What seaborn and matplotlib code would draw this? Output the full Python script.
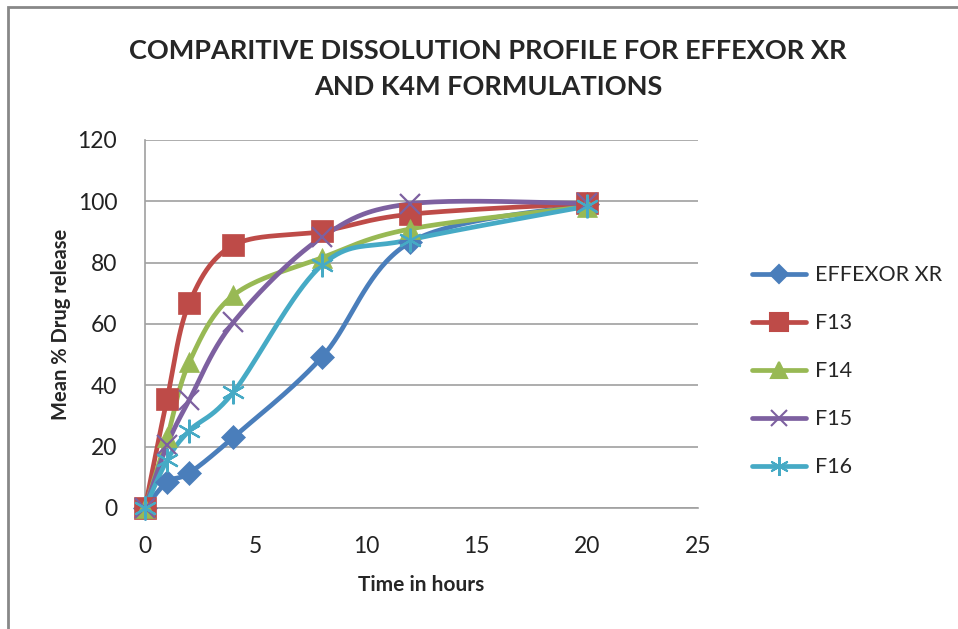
import numpy as np
import pandas as pd
import matplotlib
matplotlib.use("Agg")
import matplotlib.pyplot as plt
from matplotlib.lines import Line2D
from matplotlib.patches import Rectangle
import seaborn as sns

time_h = [0, 1, 2, 4, 8, 12, 20]
effexor_xr = [0, 8.5, 11.4, 23.1, 49.2, 86.7, 99]
f13 = [0, 35.6, 66.8, 85.7, 90.2, 95.8, 99.3]
f14 = [0, 23, 47.5, 69.4, 81.6, 91, 98.3]
f15 = [0, 20.5, 35.2, 60.6, 88.3, 99.2, 99.3]
f16 = [0, 15.6, 25.2, 37.8, 79.2, 87.5, 98.4]

series_names = ["EFFEXOR XR", "F13", "F14", "F15", "F16"]
series_values = [effexor_xr, f13, f14, f15, f16]
colors = ["#4A7EBB", "#BE4B48", "#98B954", "#7D60A0", "#46AAC5"]
markers = ["D", "s", "^", "x", (6, 2, 0)]
msizes = [12, 16, 15, 15, 17]

title = "COMPARITIVE DISSOLUTION PROFILE FOR EFFEXOR XR\nAND K4M FORMULATIONS"
xlabel = "Time in hours"
ylabel = "Mean % Drug release"


def smooth(xs, ys, n=40):
    xs = np.asarray(xs, float)
    ys = np.asarray(ys, float)
    pts = np.column_stack([xs, ys])
    out = []
    for i in range(len(pts) - 1):
        p0 = pts[i - 1] if i > 0 else pts[i]
        p1 = pts[i]
        p2 = pts[i + 1]
        p3 = pts[i + 2] if i + 2 < len(pts) else pts[i + 1]
        c1 = p1 + (p2 - p0) / 6.0
        c2 = p2 - (p3 - p1) / 6.0
        t = np.linspace(0, 1, n)[:, None]
        seg = ((1 - t) ** 3) * p1 + 3 * ((1 - t) ** 2) * t * c1 + 3 * (1 - t) * t ** 2 * c2 + t ** 3 * p2
        out.append(seg if i == 0 else seg[1:])
    s = np.vstack(out)
    return s[:, 0], s[:, 1]


sns.set_style("white")
plt.rcParams["font.family"] = ["Lato", "DejaVu Sans"]

fig = plt.figure(figsize=(9.58, 6.29), dpi=100)
W, H = 958, 629
ax = fig.add_axes([145 / W, 1 - 508 / H, (698 - 145) / W, (508 - 140) / H])

for name, vals, c, m, ms in zip(series_names, series_values, colors, markers, msizes):
    sx, sy = smooth(time_h, vals)
    sm = pd.DataFrame({"x": sx, "y": sy})
    sns.lineplot(data=sm, x="x", y="y", sort=False, color=c, linewidth=3.4, ax=ax, zorder=3)
    df = pd.DataFrame({"x": time_h, "y": vals})
    mew = 1.6 if m in ("x",) or isinstance(m, tuple) else 0.5
    sns.lineplot(data=df, x="x", y="y", linestyle="", marker=m, markersize=ms,
                 color=c, markeredgecolor=c, markeredgewidth=mew, ax=ax, zorder=4,
                 clip_on=False)

ax.set_xlim(0, 25)
ax.set_ylim(0, 120)
ax.set_xticks([0, 5, 10, 15, 20, 25])
ax.set_yticks([0, 20, 40, 60, 80, 100, 120])
ax.grid(axis="y", color="#A0A0A0", linewidth=1.2)
ax.grid(axis="x", visible=False)
ax.set_axisbelow(True)
for s in ["top", "right"]:
    ax.spines[s].set_visible(False)
for s in ["left", "bottom"]:
    ax.spines[s].set_color("#A0A0A0")
    ax.spines[s].set_linewidth(1.2)
ax.tick_params(axis="both", length=0, labelsize=16.5, colors="#222222")
ax.tick_params(axis="y", pad=20)
ax.tick_params(axis="x", pad=20)
ax.set_xlabel(xlabel, fontsize=15, fontweight="bold", labelpad=13)
ax.set_ylabel(ylabel, fontsize=14.5, fontweight="bold", labelpad=5)

fig.text(488 / W, 1 - 69 / H, title, ha="center", va="center", fontsize=19.5,
         fontweight="bold", linespacing=1.6)

handles = [Line2D([0], [0], color=c, linewidth=3.4, marker=m, markersize=ms * 0.8,
                  markeredgecolor=c, markeredgewidth=1.5)
           for c, m, ms in zip(colors, markers, msizes)]
fig.legend(handles, series_names, loc="upper left", bbox_to_anchor=(733 / W, 1 - 246 / H),
           frameon=False, fontsize=15.5, handlelength=2.5, labelspacing=1.3, handletextpad=0.4)

fig.add_artist(Rectangle((8 / W, -0.05), 1.1, 1 - 7 / H + 0.05, transform=fig.transFigure,
                         fill=False, edgecolor="#888888", linewidth=2))

fig.savefig("out.png", dpi=100)
